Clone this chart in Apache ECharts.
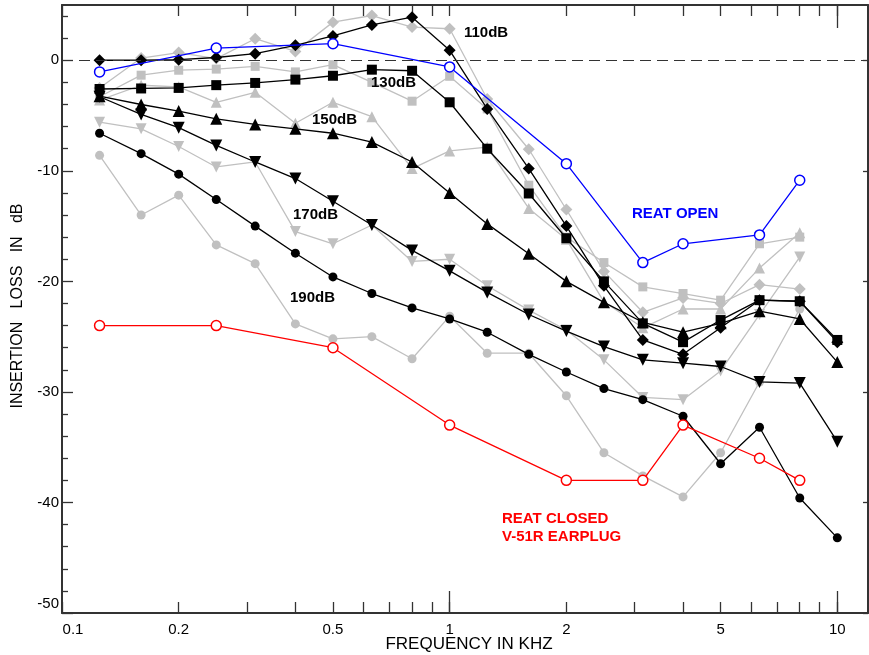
<!DOCTYPE html>
<html>
<head>
<meta charset="utf-8">
<script src="https://cdn.jsdelivr.net/npm/echarts@6/dist/echarts.min.js"></script>
<style>
html,body{margin:0;padding:0;background:#fff;}
#c{width:869px;height:655px;}
</style>
</head>
<body>
<div id="c"></div>
<script>
// 1/3-octave frequencies (kHz)
const freqs = [0.125,0.16,0.2,0.25,0.315,0.4,0.5,0.63,0.8,1,1.25,1.6,2,2.5,3.15,4,5,6.3,8,10];
const reatFreqs = [0.125,0.25,0.5,1,2,3.15,4,6.3,8];

// Black series (full set, to 10 kHz)
const black110 = [0,0,0.05,0.25,0.6,1.35,2.2,3.2,3.9,0.9,-4.4,-9.8,-15.0,-20.4,-25.3,-26.6,-24.2,-21.7,-21.8,-25.5];
const black130 = [-2.6,-2.55,-2.5,-2.25,-2.05,-1.75,-1.4,-0.85,-0.95,-3.8,-8.0,-12.05,-16.1,-20.0,-23.8,-25.5,-23.5,-21.7,-21.8,-25.3];
const black150 = [-3.25,-4.0,-4.6,-5.3,-5.8,-6.2,-6.6,-7.4,-9.2,-12.0,-14.8,-17.5,-20.0,-21.9,-23.7,-24.6,-23.8,-22.7,-23.4,-27.3];
const black170 = [-3.3,-4.9,-6.1,-7.7,-9.2,-10.7,-12.75,-14.9,-17.2,-19.05,-21.0,-23.0,-24.5,-25.9,-27.1,-27.4,-27.7,-29.1,-29.2,-34.5];
const black190 = [-6.6,-8.45,-10.3,-12.6,-15.0,-17.45,-19.6,-21.1,-22.4,-23.4,-24.6,-26.6,-28.2,-29.7,-30.7,-32.2,-36.5,-33.2,-39.6,-43.2];

// Gray series (to 8 kHz)
const gray110 = [-2.5,0.2,0.7,0.15,1.95,0.8,3.45,4.05,3.0,2.85,-3.5,-8.05,-13.5,-19.1,-22.8,-21.5,-22.0,-20.3,-20.7];
const gray130 = [-3.3,-1.35,-0.9,-0.8,-0.55,-1.05,-0.4,-2.0,-3.7,-1.45,-4.4,-11.3,-16.0,-18.3,-20.5,-21.1,-21.7,-16.6,-16.0];
const gray150 = [-3.6,-2.26,-2.4,-3.8,-2.9,-5.7,-3.8,-5.1,-9.8,-8.2,-7.85,-13.4,-16.2,-21.85,-24.2,-22.5,-22.5,-18.8,-15.6];
const gray170 = [-5.6,-6.2,-7.8,-9.65,-9.2,-15.5,-16.6,-14.9,-18.2,-18.0,-20.4,-22.6,-24.4,-27.1,-30.5,-30.7,-28.1,-23.0,-17.8];
const gray190 = [-8.6,-14.0,-12.2,-16.7,-18.4,-23.85,-25.2,-25.0,-27.0,-23.15,-26.5,-26.5,-30.35,-35.5,-37.6,-39.5,-35.5,-29.1,-22.5];

// REAT curves
const reatOpen = [-1.05,1.1,1.5,-0.6,-9.35,-18.3,-16.6,-15.8,-10.85];
const reatClosed = [-24,-24,-26,-33,-38,-38,-33,-36,-38];

// Axis ticks / labels
const xLabelVals = [0.1,0.2,0.5,1,2,5,10];
const xTickVals = [0.1,0.2,0.3,0.4,0.5,0.6,0.7,0.8,0.9,1,2,3,4,5,6,7,8,9,10];
const xDecadeTicks = [1,10];
const yLabelVals = [-50,-40,-30,-20,-10,0];
const yMinorVals = [-48,-46,-44,-42,-38,-36,-34,-32,-28,-26,-24,-22,-18,-16,-14,-12,-8,-6,-4,-2,2,4];

const AX = '#333333';
const GRAY = '#c0c0c0';

function pairs(xs, ys){ return ys.map((v,i)=>[xs[i], v]); }

function mkSeries(name, ys, xs, color, symbol, size, rot, z){
  return {
    name, type:'line', xAxisIndex:0, yAxisIndex:0,
    data: pairs(xs, ys),
    symbol, symbolSize:size, symbolRotate:rot||0,
    showSymbol:true,
    lineStyle:{color, width:1.3},
    itemStyle:{color, borderWidth:0},
    z: z, animation:false, silent:true
  };
}

const series = [
  mkSeries('g110', gray110, freqs, GRAY, 'diamond', 12, 0, 2),
  mkSeries('g130', gray130, freqs, GRAY, 'rect', 9, 0, 2),
  mkSeries('g150', gray150, freqs, GRAY, 'triangle', 11, 0, 2),
  mkSeries('g170', gray170, freqs, GRAY, 'triangle', 11, 180, 2),
  mkSeries('g190', gray190, freqs, GRAY, 'circle', 9, 0, 2),
  mkSeries('b110', black110, freqs, '#000', 'diamond', 12, 0, 3),
  mkSeries('b130', black130, freqs, '#000', 'rect', 10, 0, 3),
  mkSeries('b150', black150, freqs, '#000', 'triangle', 12, 0, 3),
  mkSeries('b170', black170, freqs, '#000', 'triangle', 12, 180, 3),
  mkSeries('b190', black190, freqs, '#000', 'circle', 9, 0, 3),
  {
    name:'open', type:'line', xAxisIndex:0, yAxisIndex:0,
    data: pairs(reatFreqs, reatOpen),
    symbol:'circle', symbolSize:10,
    lineStyle:{color:'#0000ff', width:1.3},
    itemStyle:{color:'#fff', borderColor:'#0000ff', borderWidth:1.5},
    z:4, animation:false, silent:true,
    markLine:{
      silent:true, symbol:'none', animation:false,
      label:{show:false},
      lineStyle:{color:AX, width:1, type:[11,6]},
      data:[{yAxis:0}]
    }
  },
  {
    name:'closed', type:'line', xAxisIndex:0, yAxisIndex:0,
    data: pairs(reatFreqs, reatClosed),
    symbol:'circle', symbolSize:10,
    lineStyle:{color:'#ff0000', width:1.3},
    itemStyle:{color:'#fff', borderColor:'#ff0000', borderWidth:1.5},
    z:5, animation:false, silent:true
  }
];

const baseLog = {
  type:'log', logBase:10, min:0.1, max:12, gridIndex:0,
  splitLine:{show:false}, minorTick:{show:false}, minorSplitLine:{show:false}
};

const FONT = '"Liberation Sans", Arial, sans-serif';
function txt(x, y, text, color, size, bold, extra){
  return Object.assign({type:'text', x:x, y:y, z:100, silent:true,
    style:{text:text, fill:color, font:(bold?'bold ':'')+size+'px '+FONT, align:'left', verticalAlign:'middle'}}, extra||{});
}

const option = {
  animation:false,
  backgroundColor:'#fff',
  grid:{left:62, top:5, right:1, bottom:42, containLabel:false},
  xAxis:[
    Object.assign({}, baseLog, {
      position:'bottom',
      axisLine:{show:true, onZero:false, lineStyle:{color:AX, width:2}},
      axisTick:{show:true, inside:true, length:11, customValues:xTickVals, lineStyle:{color:AX, width:1.3}},
      axisLabel:{show:true, customValues:xLabelVals, margin:9, color:'#000',
        fontFamily:'Liberation Sans, Arial, sans-serif', fontSize:15,
        formatter:function(v){ const s = String(+v.toPrecision(3)); return v < 0.15 ? '{a|'+s+'}' : s; },
        rich:{a:{fontFamily:'Liberation Sans, Arial, sans-serif', fontSize:15, color:'#000', padding:[0,0,0,22]}}
      }
    }),
    Object.assign({}, baseLog, {
      position:'bottom',
      axisLine:{show:false, onZero:false},
      axisTick:{show:true, inside:true, length:22, customValues:xDecadeTicks, lineStyle:{color:AX, width:1.3}},
      axisLabel:{show:false}
    }),
    Object.assign({}, baseLog, {
      position:'top',
      axisLine:{show:true, onZero:false, lineStyle:{color:AX, width:2}},
      axisTick:{show:true, inside:true, length:11, customValues:xTickVals, lineStyle:{color:AX, width:1.3}},
      axisLabel:{show:false}
    }),
    Object.assign({}, baseLog, {
      position:'top',
      axisLine:{show:false, onZero:false},
      axisTick:{show:true, inside:true, length:23, customValues:[10], lineStyle:{color:AX, width:1.3}},
      axisLabel:{show:false}
    })
  ],
  yAxis:[
    {
      type:'value', min:-50, max:5, gridIndex:0, position:'left',
      splitLine:{show:false},
      axisLine:{show:true, onZero:false, lineStyle:{color:AX, width:2}},
      axisTick:{show:true, inside:true, length:11, customValues:yLabelVals, lineStyle:{color:AX, width:1.3}},
      axisLabel:{show:true, customValues:yLabelVals, margin:3, color:'#000',
        fontFamily:'Liberation Sans, Arial, sans-serif', fontSize:15,
        formatter:function(v){ return v === -50 ? '{a|-50}' : String(v); },
        rich:{a:{fontFamily:'Liberation Sans, Arial, sans-serif', fontSize:15, color:'#000', padding:[0,0,18,0]}}
      }
    },
    {
      type:'value', min:-50, max:5, gridIndex:0, position:'left',
      splitLine:{show:false},
      axisLine:{show:false, onZero:false},
      axisTick:{show:true, inside:true, length:6, customValues:yMinorVals, lineStyle:{color:AX, width:1.3}},
      axisLabel:{show:false}
    },
    {
      type:'value', min:-50, max:5, gridIndex:0, position:'right',
      splitLine:{show:false},
      axisLine:{show:true, onZero:false, lineStyle:{color:AX, width:2}},
      axisTick:{show:true, inside:true, length:5, customValues:yLabelVals, lineStyle:{color:AX, width:1.3}},
      axisLabel:{show:false}
    }
  ],
  graphic:[
    txt(18, 306, 'INSERTION   LOSS   IN   dB', '#000', 16, false,
      {rotation:Math.PI/2, style:{text:'INSERTION   LOSS   IN   dB', fill:'#000', font:'16px '+FONT, align:'center', verticalAlign:'middle'}}),
    txt(469, 644, 'FREQUENCY IN KHZ', '#000', 17, false,
      {style:{text:'FREQUENCY IN KHZ', fill:'#000', font:'17px '+FONT, align:'center', verticalAlign:'middle'}}),
    txt(464, 33, '110dB', '#000', 15, true),
    txt(371, 83, '130dB', '#000', 15, true),
    txt(312, 120, '150dB', '#000', 15, true),
    txt(293, 215, '170dB', '#000', 15, true),
    txt(290, 298, '190dB', '#000', 15, true),
    txt(632, 214, 'REAT OPEN', '#0000ff', 15, true),
    txt(502, 519, 'REAT CLOSED', '#ff0000', 15, true),
    txt(502, 537, 'V-51R EARPLUG', '#ff0000', 15, true)
  ],
  series: series
};

const chart = echarts.init(document.getElementById('c'), null, {renderer:'canvas'});
chart.setOption(option);
</script>
</body>
</html>
